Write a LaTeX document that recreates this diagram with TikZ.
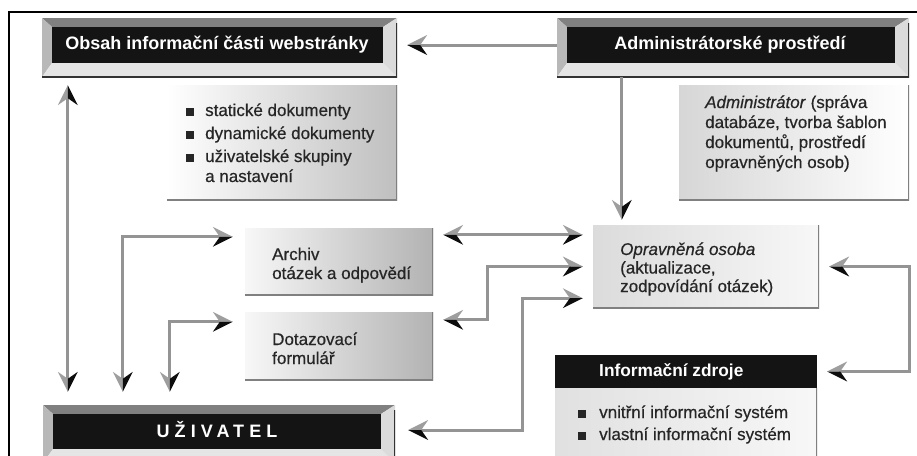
\documentclass[tikz,border=0pt]{standalone}
\usepackage{fontspec}
\setmainfont{Liberation Sans}
\usetikzlibrary{arrows.meta}

% two-tone arrow tips: one barb light grey, the other black
\pgfdeclarearrow{
  name = DuoA,
  cache = false,
  setup code = {
    \pgfarrowssettipend{0pt}
    \pgfarrowssetlineend{-12pt}
    \pgfarrowssetbackend{-20pt}
    \pgfarrowshullpoint{0pt}{0pt}
    \pgfarrowshullpoint{-20pt}{10pt}
    \pgfarrowshullpoint{-20pt}{-10pt}
  },
  drawing code = {
    \pgfpathmoveto{\pgfqpoint{0pt}{0pt}}
    \pgfpathlineto{\pgfqpoint{-20pt}{10pt}}
    \pgfpathlineto{\pgfqpoint{-13pt}{0pt}}
    \pgfpathclose
    \pgfsetfillcolor{black!38}
    \pgfusepathqfill
    \pgfpathmoveto{\pgfqpoint{0pt}{0pt}}
    \pgfpathlineto{\pgfqpoint{-20pt}{-10pt}}
    \pgfpathlineto{\pgfqpoint{-13pt}{0pt}}
    \pgfpathclose
    \pgfsetfillcolor{black!95}
    \pgfusepathqfill
  }
}
\pgfdeclarearrow{
  name = DuoB,
  cache = false,
  setup code = {
    \pgfarrowssettipend{0pt}
    \pgfarrowssetlineend{-12pt}
    \pgfarrowssetbackend{-20pt}
    \pgfarrowshullpoint{0pt}{0pt}
    \pgfarrowshullpoint{-20pt}{10pt}
    \pgfarrowshullpoint{-20pt}{-10pt}
  },
  drawing code = {
    \pgfpathmoveto{\pgfqpoint{0pt}{0pt}}
    \pgfpathlineto{\pgfqpoint{-20pt}{-10pt}}
    \pgfpathlineto{\pgfqpoint{-13pt}{0pt}}
    \pgfpathclose
    \pgfsetfillcolor{black!38}
    \pgfusepathqfill
    \pgfpathmoveto{\pgfqpoint{0pt}{0pt}}
    \pgfpathlineto{\pgfqpoint{-20pt}{10pt}}
    \pgfpathlineto{\pgfqpoint{-13pt}{0pt}}
    \pgfpathclose
    \pgfsetfillcolor{black!95}
    \pgfusepathqfill
  }
}

\newcommand\txtbody{\fontsize{17}{20}\selectfont\addfontfeatures{FakeBold=0.5}}
\newcommand\txttitle{\bfseries\fontsize{18}{20}\selectfont}
\newcommand\blt{\textcolor{black!85}{\rule{8pt}{8pt}}}

\tikzset{
  bevel/.style={inner sep=0pt, path picture={
    \coordinate (bvA) at (path picture bounding box.north west);
    \coordinate (bvC) at (path picture bounding box.south east);
    \coordinate (bvB) at (bvC |- bvA);
    \coordinate (bvD) at (bvA |- bvC);
    \coordinate (ivA) at ([shift={(10pt,-9pt)}]bvA);
    \coordinate (ivC) at ([shift={(-14pt,14pt)}]bvC);
    \coordinate (ivB) at (ivC |- ivA);
    \coordinate (ivD) at (ivA |- ivC);
    \fill[black!50] (bvA) -- (bvB) -- (ivB) -- (ivA) -- cycle;
    \fill[black!28] (bvA) -- (ivA) -- (ivD) -- (bvD) -- cycle;
    \fill[black!10] (bvD) -- (ivD) -- (ivC) -- (bvC) -- cycle;
    \fill[black!14] (bvB) -- (bvC) -- (ivC) -- (ivB) -- cycle;
    \fill[black!92] (ivA) rectangle (ivC);
    \draw[black!80, line width=3pt] ([yshift=-5pt]bvB) -- (bvC) -- (bvD);
  }},
  infobox/.style={inner sep=0pt, left color=#1, right color=black!30,
    path picture={\draw[black!50, line width=3pt]
      (path picture bounding box.north east) -- (path picture bounding box.south east)
      -- (path picture bounding box.south west);}},
  infobox/.default=black!3,
  titletext/.style={inner sep=0pt, text=white, font=\txttitle},
  bodytext/.style={inner sep=0pt, text=black!85, font=\txtbody, anchor=base west},
  conn/.style={draw=black!42, line width=3pt},
}

\begin{document}
\begin{tikzpicture}[x=1pt, y=-1pt]
\useasboundingbox (0,0) rectangle (917,455);
\fill[white] (0,0) rectangle (917,455);

% outer frame
\draw[line width=2.5pt, black] (9,470) -- (9,12) -- (930,12);

% title boxes
\node[bevel, minimum width=355, minimum height=59] (obsah) at (219.5,47.5) {};
\node[titletext] (obsahT) at (217,45) {Obsah informační části webstránky};

\node[bevel, minimum width=352, minimum height=59] (admin) at (733,47.5) {};
\node[titletext] (adminT) at (730,45) {Administrátorské prostředí};

\node[bevel, minimum width=352, minimum height=58] (uziv) at (219,434) {};
\node[titletext] (uzivT) at (217,430) {\addfontfeatures{LetterSpace=28}UŽIVATEL};

% descriptive boxes
\node[infobox=white, right color=black!25, minimum width=230, minimum height=115] (obsahI) at (282,142.5) {};
\node[bodytext] (obsahL) at (186,116) {\begin{tabular}[t]{@{}l@{\hspace{11pt}}l@{}}
  \blt & statické dokumenty\\[3pt]
  \blt & dynamické dokumenty\\[3pt]
  \blt & uživatelské skupiny\\
       & a nastavení
\end{tabular}};

\node[infobox=black!16, right color=white, minimum width=230, minimum height=115] (adminI) at (794,142.5) {};
\node[bodytext] (adminL) at (705,108) {\begin{tabular}[t]{@{}l@{}}
  \textit{Administrátor} (správa\\
  databáze, tvorba šablon\\
  dokumentů, prostředí\\
  opravněných osob)
\end{tabular}};

\node[infobox, minimum width=188, minimum height=67] (archiv) at (339,261.5) {};
\node[bodytext] (archivL) at (272,260) {\begin{tabular}[t]{@{}l@{}}
  Archiv\\[-1pt] otázek a odpovědí
\end{tabular}};

\node[infobox, minimum width=188, minimum height=68] (dotaz) at (339,346) {};
\node[bodytext] (dotazL) at (272,345) {\begin{tabular}[t]{@{}l@{}}
  Dotazovací\\[-1pt] formulář
\end{tabular}};

\node[infobox=black!14, right color=black!3, minimum width=226, minimum height=83] (oprav) at (706,266.5) {};
\node[bodytext] (opravL) at (620,255) {\begin{tabular}[t]{@{}l@{}}
  \textit{Opravněná osoba}\\[-1.5pt]
  (aktualizace,\\[-1.5pt]
  zodpovídání otázek)
\end{tabular}};

\node[fill=black!92, minimum width=262, minimum height=33, inner sep=0pt] (zdrojeH) at (686,371.5) {};
\node[titletext, font=\bfseries\fontsize{17.3}{20}\selectfont, anchor=west] (zdrojeT) at (599,372) {Informační zdroje};
\node[infobox=black!12, right color=black!3, minimum width=262, minimum height=82] (zdrojeB) at (686,429) {};
\node[bodytext] (zdrojeL) at (578,418) {\begin{tabular}[t]{@{}l@{\hspace{13pt}}l@{}}
  \blt & vnitřní informační systém\\[2pt]
  \blt & vlastní informační systém
\end{tabular}};

% connectors
\draw[conn, -DuoB, shorten >=10pt] (admin.west |- obsahT) -- (obsah.east |- obsahT);

\coordinate (adminDown) at ([xshift=65pt]admin.south west);
\draw[conn, -DuoB, shorten >=5pt] (adminDown) -- (adminDown |- oprav.north);

\coordinate (leftTop) at ([xshift=26pt]obsah.south west);
\draw[conn, DuoA-DuoB, shorten <=8pt, shorten >=13pt] (leftTop) -- (leftTop |- uziv.north);

\coordinate (archivIn) at ([yshift=-9pt]archiv.north west);
\coordinate (uzivA) at ([xshift=80pt]uziv.north west);
\draw[conn, DuoA-DuoB, shorten <=12pt, shorten >=13pt] (archivIn) -| (uzivA);

\coordinate (dotazIn) at ([yshift=-10pt]dotaz.north west);
\coordinate (uzivB) at ([xshift=127pt]uziv.north west);
\draw[conn, DuoA-DuoB, shorten <=12pt, shorten >=13pt] (dotazIn) -| (uzivB);

\coordinate (archivOut) at ([yshift=-7pt]archiv.north east);
\draw[conn, DuoB-DuoA, shorten <=10pt, shorten >=10pt] (archivOut) -- (archivOut -| oprav.west);

\coordinate (dotazOut) at ([yshift=-8pt]dotaz.north east);
\draw[conn, DuoB-DuoA, shorten <=10pt, shorten >=10pt] (dotazOut) -- ++(54pt,0) |- (oprav.west);

\coordinate (uzivOut) at (uziv.east |- uzivT);
\coordinate (opravLow) at ([yshift=10pt]oprav.south west);
\draw[conn, DuoB-DuoA, shorten <=13pt, shorten >=10pt] (uzivOut) -- ++(127pt,0) |- (opravLow);

\draw[conn, DuoB-DuoB, shorten <=10pt, shorten >=10pt] (oprav.east) -- ++(90pt,0) |- (zdrojeH.east);
\end{tikzpicture}
\end{document}
